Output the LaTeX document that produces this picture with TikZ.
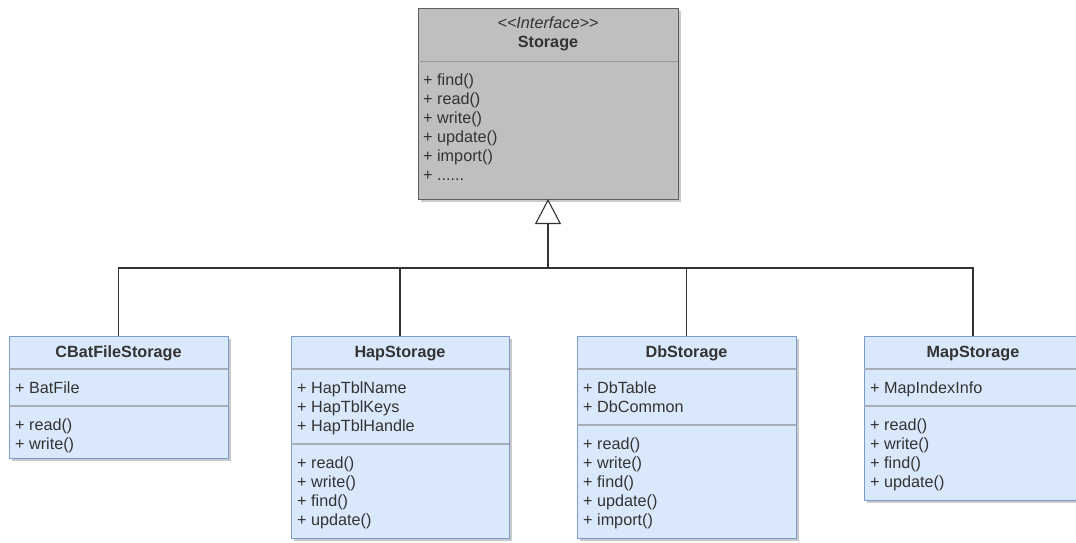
\documentclass[tikz,border=0pt]{standalone}
\usepackage{fontspec}
\setmainfont{Liberation Sans}
\usetikzlibrary{arrows.meta}
\definecolor{ifill}{HTML}{BFBFBF}
\definecolor{istroke}{HTML}{5E5E5E}
\definecolor{idiv}{HTML}{9A9A9A}
\definecolor{cfill}{HTML}{DAE8FC}
\definecolor{cstroke}{HTML}{7E9CCB}
\definecolor{cdiv}{HTML}{A6AEBA}
\definecolor{txt}{HTML}{333333}
\definecolor{shadowc}{HTML}{B4B4B4}
\tikzset{
  box/.style={rectangle, inner sep=0pt, outer sep=0pt, anchor=north west, line width=1pt},
  ibox/.style={box, fill=ifill, draw=istroke},
  cbox/.style={box, fill=cfill, draw=cstroke},
  shadowbox/.style={fill=shadowc, opacity=0.7},
  titletext/.style={anchor=base, text=txt, font=\fontsize{16.2}{19}\selectfont\bfseries, inner sep=0pt},
  stereotext/.style={anchor=base, text=txt, font=\fontsize{16.2}{19}\selectfont\itshape, inner sep=0pt},
  members/.style={anchor=north west, align=left, text=txt, font=\fontsize{16.2}{19}\selectfont, inner sep=0pt},
  idivline/.style={draw=idiv, line width=1pt},
  cdivline/.style={draw=cdiv, line width=1.3pt},
  conn/.style={draw=txt, line width=1.1pt},
}
\begin{document}
\begin{tikzpicture}[x=1pt,y=-1pt]
\useasboundingbox (0,0) rectangle (1076,542);
\clip (0,0) rectangle (1076,542);
\fill[white] (0,0) rectangle (1076,542);

% shadows
\fill[shadowbox] (421,11) rectangle (681,202);
\fill[shadowbox] (12,339) rectangle (231,461);
\fill[shadowbox] (294,339) rectangle (512,541);
\fill[shadowbox] (580,339) rectangle (799,541);
\fill[shadowbox] (867,339) rectangle (1085,503);

% Storage interface
\node[ibox, minimum width=260pt, minimum height=191pt] (storage) at (418,8) {};
\draw[idivline] (418,61) -- (678,61);
\node[stereotext] (stereo) at (548,28.5) {<\kern0pt<Interface>\kern0pt>};
\node[titletext] (storaget) at (548,47.5) {Storage};
\node[members] (storagem) at (423,71.5) {\strut+ find()\\\strut+ read()\\\strut+ write()\\\strut+ update()\\\strut+ import()\\\strut+ ......};

% CBatFileStorage
\node[cbox, minimum width=219pt, minimum height=122pt] (cbat) at (9,336) {};
\draw[cdivline] (9,369) -- (228,369);
\draw[cdivline] (9,406) -- (228,406);
\node[titletext] (cbatt) at (118.5,357.5) {CBatFileStorage};
\node[members] (cbata) at (15,379.7) {\strut+ BatFile};
\node[members] (cbatm) at (15,416.7) {\strut+ read()\\\strut+ write()};

% HapStorage
\node[cbox, minimum width=218pt, minimum height=202pt] (hap) at (291,336) {};
\draw[cdivline] (291,369) -- (509,369);
\draw[cdivline] (291,444) -- (509,444);
\node[titletext] (hapt) at (400,357.5) {HapStorage};
\node[members] (hapa) at (297,379.7) {\strut+ HapTblName\\\strut+ HapTblKeys\\\strut+ HapTblHandle};
\node[members] (hapm) at (297,454.7) {\strut+ read()\\\strut+ write()\\\strut+ find()\\\strut+ update()};

% DbStorage
\node[cbox, minimum width=219pt, minimum height=202pt] (db) at (577,336) {};
\draw[cdivline] (577,369) -- (796,369);
\draw[cdivline] (577,425) -- (796,425);
\node[titletext] (dbt) at (686.5,357.5) {DbStorage};
\node[members] (dba) at (583,379.7) {\strut+ DbTable\\\strut+ DbCommon};
\node[members] (dbm) at (583,435.7) {\strut+ read()\\\strut+ write()\\\strut+ find()\\\strut+ update()\\\strut+ import()};

% MapStorage
\node[cbox, minimum width=218pt, minimum height=164pt] (map) at (864,336) {};
\draw[cdivline] (864,369) -- (1082,369);
\draw[cdivline] (864,406) -- (1082,406);
\node[titletext] (mapt) at (973,357.5) {MapStorage};
\node[members] (mapa) at (870,379.7) {\strut+ MapIndexInfo};
\node[members] (mapm) at (870,416.7) {\strut+ read()\\\strut+ write()\\\strut+ find()\\\strut+ update()};

% connectors
\coordinate (bus) at (548,268);
\draw[conn] (cbat.north) |- (bus) -| (map.north);
\draw[conn] (hap.north) -- (hap.north |- bus);
\draw[conn] (db.north) -- (db.north |- bus);
\draw[conn, -{Triangle[open, length=25pt, width=26pt, line width=1.1pt, fill=white]}] (bus) -- (storage.south);
\end{tikzpicture}
\end{document}
